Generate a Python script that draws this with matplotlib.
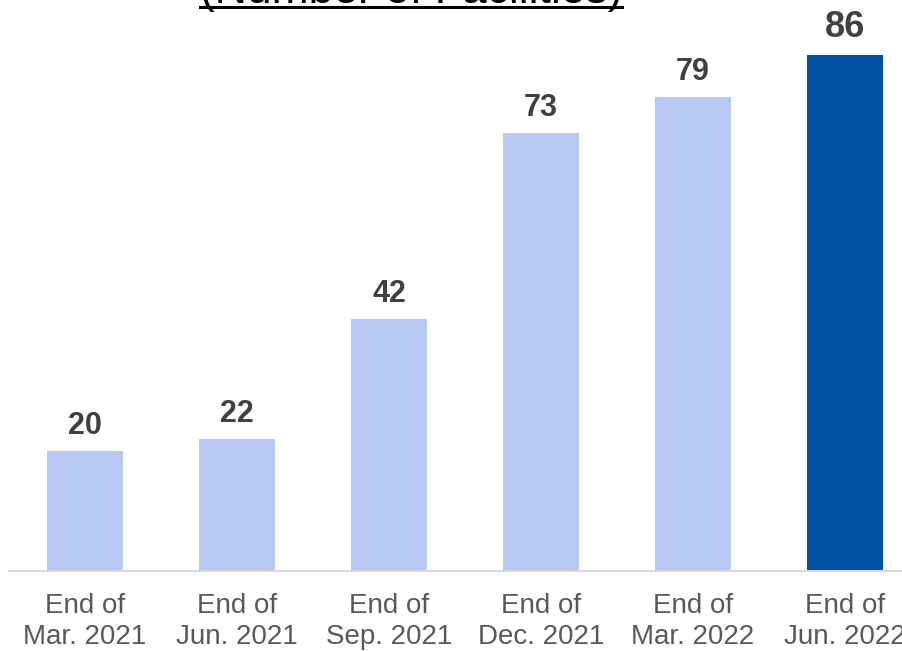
import matplotlib.pyplot as plt
from matplotlib.lines import Line2D

# data
categories = ['End of\nMar. 2021', 'End of\nJun. 2021', 'End of\nSep. 2021',
              'End of\nDec. 2021', 'End of\nMar. 2022', 'End of\nJun. 2022']
facilities = [20, 22, 42, 73, 79, 86]
title = '(Number of Facilities)'

plt.rcParams['font.family'] = ['Liberation Sans', 'DejaVu Sans']

light = '#B7C9F3'
dark = '#0050A2'
colors = [light] * (len(facilities) - 1) + [dark]

fig = plt.figure(figsize=(9.02, 6.51), dpi=100)
# axes: left edge at 9px, bottom (zero line) at 80px from bottom
ax = fig.add_axes([9 / 902, 80 / 651, 1 - 9 / 902, 1 - 80 / 651])

x = list(range(len(categories)))
ax.bar(x, facilities, width=0.5, color=colors, zorder=2)

ax.set_xlim(-0.5, 5.375)
ax.set_ylim(0, 95.17)

# value labels
for i, v in enumerate(facilities):
    last = i == len(facilities) - 1
    ax.annotate(str(v), (i, v), xytext=(0, 13 if last else 12.5),
                textcoords='offset points', ha='center', va='baseline',
                fontsize=26 if last else 22, fontweight='bold', color='#404040')

ax.set_xticks(x)
ax.set_xticklabels(categories, fontsize=20, color='#595959', linespacing=1.22)
ax.tick_params(axis='x', length=0, pad=16)
ax.set_yticks([])
for s in ['top', 'right', 'left']:
    ax.spines[s].set_visible(False)
ax.spines['bottom'].set_color('#D9D9D9')
ax.spines['bottom'].set_linewidth(1.5)

# title, mostly cut off at the top, underlined
t = fig.text(411 / 902, 1 - 3 / 651, title, ha='center', va='baseline',
             fontsize=32, color='black')
fig.canvas.draw()
bb = t.get_window_extent()
uy = 1 - 7 / 651
fig.add_artist(Line2D([bb.x0 / 902, bb.x1 / 902], [uy, uy], color='black',
                      linewidth=2.2, transform=fig.transFigure))

plt.savefig('out.png', dpi=100)
